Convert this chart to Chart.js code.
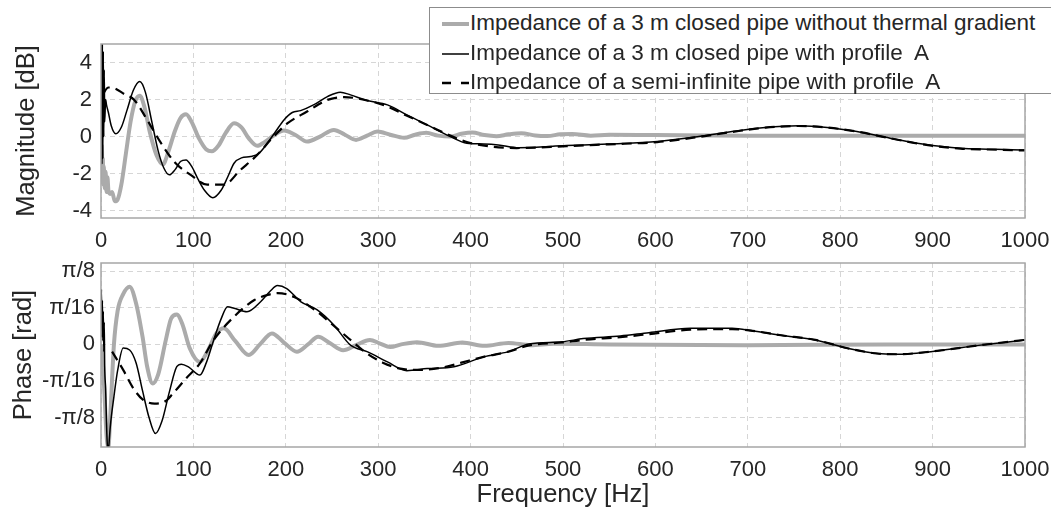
<!DOCTYPE html>
<html>
<head>
<meta charset="utf-8">
<title>Impedance magnitude and phase</title>
<script src="https://cdn.jsdelivr.net/npm/chart.js@4.4.0/dist/chart.umd.min.js"></script>
<style>
  body{margin:0;background:#fff;}
  #wrap{position:relative;width:1051px;height:510px;overflow:hidden;font-family:"Liberation Sans",Arial,sans-serif;}
  #magbox{position:absolute;left:0;top:0;}
  #phasebox{position:absolute;left:0;top:225px;}
  #legendbox{position:absolute;left:429px;top:7px;width:640px;height:85px;border:1px solid #8c8c8c;background:#fff;color:#262626;font-size:22.5px;z-index:5;}
  .row{position:absolute;left:12px;height:29px;line-height:29px;white-space:nowrap;}
  .row svg{vertical-align:middle;margin-right:1px;}
</style>
</head>
<body>
<div id="wrap">
  <div id="magbox"><canvas id="magChart" width="1051" height="255"></canvas></div>
  <div id="phasebox"><canvas id="phaseChart" width="1051" height="285"></canvas></div>
  <div id="legendbox">
    <div class="row" style="top:0px"><svg width="27" height="10"><line x1="0" y1="5" x2="27" y2="5" stroke="#ababab" stroke-width="4"/></svg>Impedance of a 3 m closed pipe without thermal gradient</div>
    <div class="row" style="top:30px"><svg width="27" height="10"><line x1="0" y1="5" x2="27" y2="5" stroke="#000" stroke-width="1.5"/></svg>Impedance of a 3 m closed pipe with profile&nbsp; A</div>
    <div class="row" style="top:59px"><svg width="27" height="10"><line x1="0" y1="5" x2="27" y2="5" stroke="#000" stroke-width="2.5" stroke-dasharray="9,10"/></svg>Impedance of a semi-infinite pipe with profile&nbsp; A</div>
  </div>
</div>

<script>
//data area

//axis ticks
const freqTicks = [0,100,200,300,400,500,600,700,800,900,1000];
const magTicks = [-4,-2,0,2,4];
const phaseTicks = [-Math.PI/8, -Math.PI/16, 0, Math.PI/16, Math.PI/8];
const phaseTickLabels = ['-\u03c0/8','-\u03c0/16','0','\u03c0/16','\u03c0/8'];

//magnitude [dB] - closed pipe without thermal gradient (gray)
const magGrayHz = [0,0.5,1,1.5,2,2.5,3,4,5,6,7,8,10,12,15,18,22,27,32,37,42,47,53,60,67,73,80,86,92,98,106,114,120,127,135,144,152,160,169,177,188,198,210,223,237,252,264,276,288,299,313,328,340,352,365,378,390,402,415,428,441,455,470,483,497,510,530,550,600,700,800,1000];
const magGrayDb = [0,-1.5,-0.5,-2.2,-1.2,-2.6,-1.6,-2.8,-1.9,-3.0,-2.2,-2.9,-3.1,-3.0,-3.5,-3.4,-2.6,-0.9,0.8,1.9,2.2,1.6,0.2,-1.0,-1.5,-0.8,0.3,1.0,1.2,0.8,-0.1,-0.7,-0.8,-0.5,0.2,0.72,0.5,-0.1,-0.5,-0.3,0.1,0.33,0.1,-0.27,0.0,0.36,0.1,-0.18,0.05,0.27,0.1,-0.07,0.1,0.2,0.05,0.0,0.15,0.22,0.08,0.02,0.12,0.18,0.06,0.03,0.12,0.14,0.05,0.1,0.08,0.05,0.05,0.05];

//magnitude [dB] - closed pipe with profile A (solid)
const magSolidHz = [0,0.5,1,1.5,2,2.5,3,3.5,4,5,6,8,11,16,22,28,35,42,48,55,62,68,74,80,86,92,98,105,112,121,130,137,144,152,162,171,180,189,198,207,216,230,245,259,270,288,310,331,353,378,396,414,430,452,504,549,602,647,683,719,755,786,818,854,889,930,960,997,1000];
const magSolidDb = [1.5,5.2,-1.5,5.2,-1.2,4.6,0.0,3.6,0.8,2.0,1.7,1.3,0.6,0.15,0.5,1.4,2.5,2.97,2.4,0.8,-0.8,-1.7,-2.07,-1.8,-1.35,-1.26,-1.6,-2.3,-2.9,-3.3,-2.9,-2.2,-1.44,-1.15,-1.08,-0.9,-0.36,0.27,0.9,1.3,1.4,1.71,2.16,2.4,2.25,1.95,1.71,1.17,0.63,0.0,-0.36,-0.4,-0.45,-0.6,-0.49,-0.4,-0.27,0.0,0.27,0.49,0.58,0.49,0.27,-0.09,-0.4,-0.63,-0.68,-0.72,-0.72];

//magnitude [dB] - semi-infinite pipe with profile A (dashed)
const magDashHz = [2,8,15,25,36,50,65,80,97,115,133,151,169,185,202,223,245,263,288,310,330,353,378,400,450,504,549,602,647,683,719,755,786,818,854,889,930,960,1000];
const magDashDb = [2.3,2.65,2.6,2.3,1.98,0.9,-0.36,-1.4,-2.07,-2.6,-2.6,-1.8,-1.0,-0.1,0.72,1.35,1.98,2.13,1.95,1.62,1.15,0.63,0.05,-0.35,-0.62,-0.52,-0.42,-0.3,-0.02,0.25,0.48,0.57,0.49,0.27,-0.09,-0.42,-0.65,-0.7,-0.75];

//phase [rad] - gray
const phaseGrayHz = [0,2,4,6,8,10,14,18,24,31,38,45,50,56,62,70,76,82,88,96,107,115,125,133,145,160,172,185,198,212,224,235,248,262,276,291,302,313,325,342,365,391,415,441,465,490,550,700,850,1000];
const phaseGrayRad = [0,-0.1,-0.29,-0.49,-0.55,-0.39,0,0.18,0.27,0.31,0.22,0.04,-0.12,-0.21,-0.16,0.02,0.14,0.16,0.11,-0.02,-0.094,-0.04,0.06,0.086,0.02,-0.057,0,0.059,0.01,-0.039,0,0.041,0.006,-0.031,-0.004,0.024,0.004,-0.014,0,0.012,-0.008,0.01,-0.008,0.008,-0.004,0.004,0,-0.004,0,0];

//phase [rad] - solid
const phaseSolidHz = [0,0.5,1,1.5,2,2.5,3,3.5,4,5,6,7,8,9,10,14,18,24,31,38,45,52,59,66,74,82,87,95,107,114,122,130,137,144,158,173,183,191,201,216,234,252,270,288,310,331,353,382,414,441,463,499,522,562,593,638,683,705,736,773,809,840,862,898,952,1000];
const phaseSolidRad = [0.196,0.295,0.039,0.236,0.02,0.177,-0.039,0.118,-0.118,-0.236,-0.432,-0.55,-0.57,-0.51,-0.444,-0.28,-0.14,-0.02,-0.03,-0.1,-0.25,-0.393,-0.479,-0.412,-0.255,-0.12,-0.106,-0.122,-0.165,-0.098,0.024,0.137,0.202,0.194,0.175,0.23,0.285,0.316,0.30,0.23,0.185,0.104,-0.004,-0.039,-0.094,-0.141,-0.13,-0.12,-0.067,-0.039,0.002,0.014,0.031,0.045,0.063,0.086,0.086,0.073,0.049,0.024,-0.022,-0.049,-0.053,-0.039,-0.004,0.024];

//phase [rad] - dashed
const phaseDashHz = [12,24,35,45,58,70,78,92,107,122,144,166,180,191,209,234,250,266,288,305,324,345,370,390,414,441,463,499,522,562,593,638,683,705,736,773,809,840,862,898,952,1000];
const phaseDashRad = [-0.039,-0.137,-0.236,-0.295,-0.318,-0.304,-0.263,-0.183,-0.102,0.024,0.149,0.238,0.265,0.275,0.255,0.175,0.108,0.041,-0.049,-0.098,-0.13,-0.137,-0.124,-0.098,-0.067,-0.039,-0.006,0.01,0.024,0.039,0.055,0.079,0.082,0.073,0.049,0.024,-0.022,-0.049,-0.053,-0.039,-0.004,0.024];

//chart area

Chart.defaults.font.family = '"Liberation Sans", Arial, sans-serif';
Chart.defaults.color = '#262626';

const pts = (xs, ys) => xs.map((x, i) => ({x: x, y: ys[i]}));

//box round the plot area
const boxPlugin = {
  id: 'box',
  afterDatasetsDraw(chart) {
    const a = chart.chartArea;
    const c = chart.ctx;
    c.save();
    c.strokeStyle = '#a6a6a6';
    c.lineWidth = 1.5;
    c.strokeRect(a.left, a.top, a.right - a.left, a.bottom - a.top);
    c.restore();
  }
};

function series(xs, ys, kind) {
  if (kind === 'gray') {
    return {data: pts(xs, ys), borderColor: '#ababab', borderWidth: 4, order: 3};
  }
  if (kind === 'solid') {
    return {data: pts(xs, ys), borderColor: '#000', borderWidth: 1.5, order: 2};
  }
  return {data: pts(xs, ys), borderColor: '#000', borderWidth: 2.2, borderDash: [10, 6], order: 1};
}

function xScale(height, withTitle) {
  return {
    type: 'linear', min: 0, max: 1000,
    afterBuildTicks: s => { s.ticks = freqTicks.map(v => ({value: v})); },
    afterFit: s => { s.height = height; s.paddingLeft = 0; s.paddingRight = 0; },
    ticks: {font: {size: 22}, padding: 10, maxRotation: 0, callback: v => String(v)},
    grid: {color: '#d6d6d6', lineWidth: 1, drawTicks: false},
    border: {display: false, dash: [5, 4]},
    title: {display: withTitle, text: 'Frequency [Hz]', font: {size: 25.5}, padding: {top: 0, bottom: 0}}
  };
}

const common = {
  responsive: false,
  animation: false,
  clip: 0,
  elements: {point: {radius: 0}, line: {cubicInterpolationMode: 'monotone'}},
  plugins: {legend: {display: false}, tooltip: {enabled: false}}
};

//start magnitude
new Chart(document.getElementById('magChart'), {
  type: 'line',
  data: {
    datasets: [
      series(magGrayHz, magGrayDb, 'gray'),
      series(magSolidHz, magSolidDb, 'solid'),
      series(magDashHz, magDashDb, 'dash')
    ]
  },
  options: Object.assign({}, common, {
    layout: {padding: {top: 44, right: 26, left: 0, bottom: 0}},
    scales: {
      x: xScale(37, false),
      y: {
        min: -4.4, max: 5,
        afterBuildTicks: s => { s.ticks = magTicks.map(v => ({value: v})); },
        afterFit: s => { s.width = 101; },
        ticks: {font: {size: 22}, padding: 9},
        grid: {color: '#d6d6d6', lineWidth: 1, drawTicks: false},
        border: {display: false, dash: [5, 4]},
        title: {display: true, text: 'Magnitude [dB]', font: {size: 25.5}, padding: 12}
      }
    }
  }),
  plugins: [boxPlugin]
});
//end magnitude

//start phase
new Chart(document.getElementById('phaseChart'), {
  type: 'line',
  data: {
    datasets: [
      series(phaseGrayHz, phaseGrayRad, 'gray'),
      series(phaseSolidHz, phaseSolidRad, 'solid'),
      series(phaseDashHz, phaseDashRad, 'dash')
    ]
  },
  options: Object.assign({}, common, {
    layout: {padding: {top: 38, right: 26, left: 0, bottom: 0}},
    scales: {
      x: xScale(63, true),
      y: {
        min: -0.551, max: 0.437,
        afterBuildTicks: s => { s.ticks = phaseTicks.map(v => ({value: v})); },
        afterFit: s => { s.width = 101; },
        ticks: {font: {size: 22}, padding: 6, callback: (v, i) => phaseTickLabels[i]},
        grid: {color: '#d6d6d6', lineWidth: 1, drawTicks: false},
        border: {display: false, dash: [5, 4]},
        title: {display: true, text: 'Phase [rad]', font: {size: 25.5}, padding: 9}
      }
    }
  }),
  plugins: [boxPlugin]
});
//end phase
</script>
</body>
</html>
